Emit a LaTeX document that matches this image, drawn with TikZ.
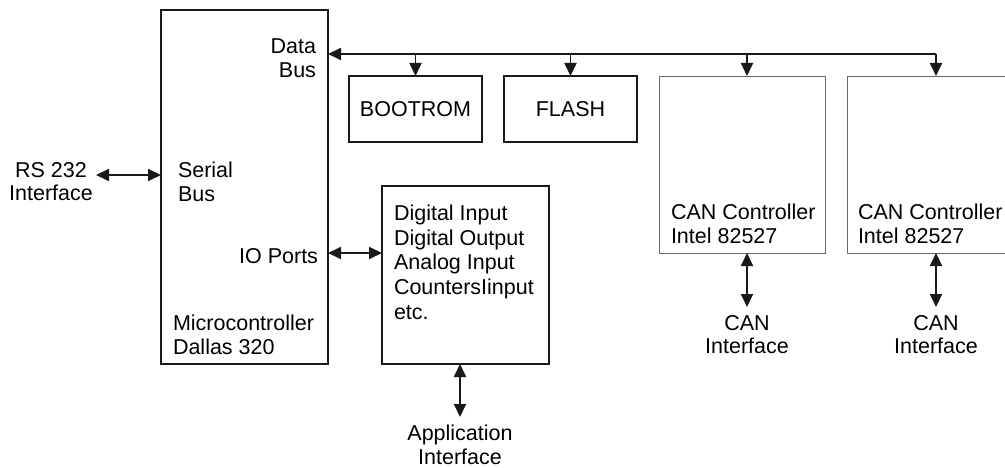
\documentclass[tikz,border=0pt]{standalone}
\usepackage{fontspec}
\setmainfont{Liberation Sans}
\usetikzlibrary{arrows.meta}
\begin{document}
\begin{tikzpicture}[x=1pt,y=-1pt,
  every node/.style={font=\fontsize{21.5}{23.5}\selectfont, inner sep=0pt, outer sep=0pt},
  box/.style={draw=black!90, line width=1.8pt, rectangle, anchor=north west},
  thinbox/.style={draw=black!60, line width=0.9pt, rectangle, anchor=north west},
  lbl/.style={align=left, anchor=north west},
  rlbl/.style={align=right, anchor=north east},
  clbl/.style={align=center, anchor=north},
  tip/.tip={Triangle[length=13pt,width=12pt]},
  conn/.style={line width=1.8pt, draw=black!90, -tip},
  dconn/.style={line width=1.8pt, draw=black!90, tip-tip}]
\useasboundingbox (0,0) rectangle (1005,468);
% boxes
\node[box, minimum width=167pt, minimum height=354pt] (micro) at (161,10) {};
\node[box, minimum width=133pt, minimum height=66pt] (boot) at (349,76) {};
\node[box, minimum width=133pt, minimum height=66pt] (flash) at (504,76) {};
\node[box, minimum width=167pt, minimum height=178pt] (dio) at (382,186) {};
\node[thinbox, minimum width=166pt, minimum height=177pt] (can1) at (659,76) {};
\node[thinbox, minimum width=170pt, minimum height=177pt] (can2) at (847,76) {};
% texts
\node[anchor=center] (boottxt) at (boot.center) {BOOTROM};
\node[anchor=center] (flashtxt) at (flash.center) {FLASH};
\node[rlbl] (databus) at (316,39) {Data\\Bus};
\node[lbl] (serial) at (178,162) {Serial\\Bus};
\node[rlbl] (io) at (318,248) {IO Ports};
\node[lbl] (mctxt) at (173,315) {Microcontroller\\Dallas 320};
\node[lbl, font=\fontsize{21.5}{24.7}\selectfont] (diotxt) at (394,205) {Digital Input\\Digital Output\\Analog Input\\CountersIinput\\etc.};
\node[lbl] (can1txt) at (671,204) {CAN Controller\\Intel 82527};
\node[lbl] (can2txt) at (858,204) {CAN Controller\\Intel 82527};
\node[clbl] (rs) at (51,162) {RS 232\\Interface};
\node[clbl] (canif1) at (747,315) {CAN\\Interface};
\node[clbl] (canif2) at (936,315) {CAN\\Interface};
\node[clbl] (appif) at (460,425) {Application\\Interface};
% connectors
\coordinate (busend) at (936,54);
\coordinate (c1top) at (can1.north -| canif1.north);
\coordinate (c2top) at (can2.north -| canif2.north);
\draw[conn] (busend) -- (micro.east |- busend);
\draw[conn] (boot.north |- busend) -- (boot.north);
\draw[conn] (flash.north |- busend) -- (flash.north);
\draw[conn] (c1top |- busend) -- (c1top);
\draw[conn] (busend) -- (c2top);
\coordinate (rsend) at (96,175);
\draw[dconn] (rsend) -- (micro.west |- rsend);
\coordinate (ioy) at (0,253);
\draw[dconn] (micro.east |- ioy) -- (dio.west |- ioy);
\draw[dconn] (dio.south -| appif.north) -- ([yshift=8pt]appif.north);
\draw[dconn] (can1.south -| canif1.north) -- ([yshift=8pt]canif1.north);
\draw[dconn] (can2.south -| canif2.north) -- ([yshift=8pt]canif2.north);
\end{tikzpicture}
\end{document}
